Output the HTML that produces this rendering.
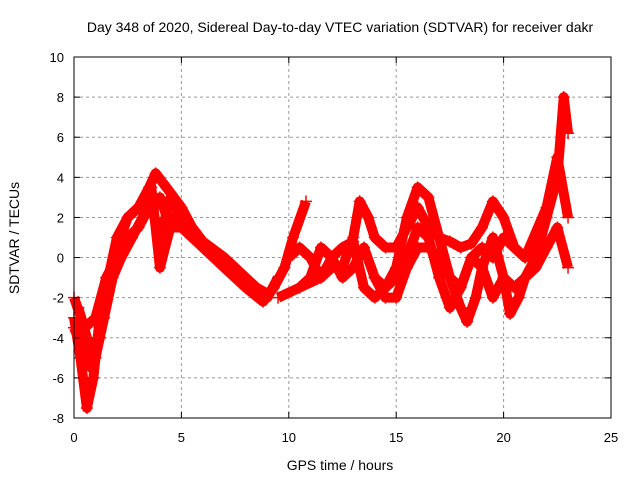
<!DOCTYPE html>
<html><head><meta charset="utf-8"><style>
body{margin:0;background:#fff;}
svg{display:block;font-family:"Liberation Sans",sans-serif;}
</style></head><body>
<svg id="chart" width="640" height="480">
<text x="340" y="32" font-size="14" text-anchor="middle">Day 348 of 2020, Sidereal Day-to-day VTEC variation (SDTVAR) for receiver dakr</text>
<text x="340" y="470" font-size="14" text-anchor="middle">GPS time / hours</text>
<text transform="translate(19,238) rotate(-90)" font-size="14" text-anchor="middle">SDTVAR / TECUs</text>
<g id="grid"></g><g id="series"></g><g id="axes"></g>
</svg>
<script>
const xTicks=[0,5,10,15,20,25];
const yTicks=[-8,-6,-4,-2,0,2,4,6,8,10];
const s1x=[0,0.3,0.6,0.9,1.2,1.6,2,2.5,3,3.5,3.8,4.3,5,5.5,6,7,8,8.5,9];
const s1y=[-3,-5,-7.5,-6,-3,-1,0.5,2,2.5,3.5,4.2,3.5,2.5,1.5,0.8,0,-1,-1.5,-2];
const s2x=[0,0.4,0.8,1.2,1.6,2,2.5,3,3.5,4,4.5,5,5.5,6,7,8,8.8,9.3,9.8,10.2,10.8];
const s2y=[-3.5,-4.5,-5.5,-4,-1,1,2,2.5,3,1,3,2,1.3,0.8,-0.5,-1.5,-2.2,-1.5,-0.5,1,2.8];
const s3x=[0,0.5,1,1.5,2,2.5,3,3.5,4,4.5,5,6,7,8,9,9.5];
const s3y=[-2,-3.5,-3,-1,0,1,1.5,2.5,3,1.5,1.5,0.5,-0.5,-1.5,-2,-1];
const s8x=[0.2,0.6,1,1.4,1.8,2.2,2.7,3.2,3.6,4,4.6,5.2,6,7,8,9];
const s8y=[-2.5,-4,-5,-3,-1,0,1,2,3.5,-0.5,2,1.5,0.5,-0.5,-1.2,-1.8];
const s4x=[9.5,10.5,11.5,12,12.5,13,13.3,13.7,14,14.5,15,15.5,16,16.5,17,17.5,18,18.5,19,19.5,20,20.5,21,21.5,22];
const s4y=[-2,-1.5,-1,-0.5,-0.5,1,2.8,2,1,0.5,0.5,1.5,2.5,1.5,1,0.8,0.5,0.7,1.5,2.8,2,0.5,0,1,2];
const s5x=[10,10.5,11,11.5,12,12.5,13,13.5,14,14.5,15,15.5,16,16.5,17,17.5,18,18.3,18.7,19,19.5,20,20.3,20.7,21,21.5,22,22.5,22.8,23];
const s5y=[0,0.5,0,-1,0,0.5,0.8,-1.5,-2,-1.5,-0.5,2,3.5,3,1,-1,-2.5,-3.2,-2,-0.5,1,-1,-2.8,-2,-1,0,2,4,8,6.2];
const s6x=[10.5,11,11.5,12,12.5,13,13.5,14,14.5,15,15.5,16,16.5,17,17.5,18,18.5,19,19.5,20,20.5,21,21.5,22,22.5,23];
const s6y=[-1.5,-1,0.5,0,-1,-0.5,0.5,-1,-2,-2,-0.5,0.5,0.5,0,-1,-1.5,0,-0.5,-2,-1,-1.5,-1,-0.5,0.5,1.5,-0.5];
const s7x=[14,14.5,15,15.5,16,16.5,17,17.5,18,18.5,19,19.5,20,21,22,22.5,23];
const s7y=[-1,-1.5,-1,0,1.5,1,-1,-2.5,-1.5,0,0.5,0,1,0,2.5,5,2];
const NS="http://www.w3.org/2000/svg";
const L=74,R=611,T=57,B=418;
const X=v=>L+(v-0)/(25-0)*(R-L);
const Y=v=>B-(v+8)/(10+8)*(B-T);
function mk(t,a,p){const e=document.createElementNS(NS,t);for(const k in a)e.setAttribute(k,a[k]);p.appendChild(e);return e;}
const grid=document.getElementById('grid'),axes=document.getElementById('axes'),ser=document.getElementById('series');
xTicks.forEach(t=>{
 if(t>0&&t<25){const g=mk('line',{x1:X(t),x2:X(t),y1:T,y2:B,stroke:'#999','stroke-dasharray':'3,3'},grid);
 
 }
 mk('line',{x1:X(t),x2:X(t),y1:B,y2:B-6,stroke:'#000'},axes);
 mk('line',{x1:X(t),x2:X(t),y1:T,y2:T+6,stroke:'#000'},axes);
 const tx=mk('text',{x:X(t),y:B+24,'font-size':13,'text-anchor':'middle'},axes);tx.textContent=t;
 
 
});
yTicks.forEach(t=>{
 if(t>-8&&t<10){const g=mk('line',{x1:L,x2:R,y1:Y(t),y2:Y(t),stroke:'#999','stroke-dasharray':'3,3'},grid);
 
 }
 mk('line',{x1:L,x2:L+6,y1:Y(t),y2:Y(t),stroke:'#000'},axes);
 mk('line',{x1:R,x2:R-6,y1:Y(t),y2:Y(t),stroke:'#000'},axes);
 const tx=mk('text',{x:L-10,y:Y(t)+5,'font-size':13,'text-anchor':'end'},axes);tx.textContent=t;
 
 
});
const fr=mk('rect',{x:L,y:T,width:R-L,height:B-T,fill:'none',stroke:'#000'},axes);


[[s1x,s1y],[s2x,s2y],[s3x,s3y],[s8x,s8y],[s4x,s4y],[s5x,s5y],[s6x,s6y],[s7x,s7y]].forEach((s,i)=>{
 const pts=s[0].map((x,j)=>X(x)+','+Y(s[1][j])).join(' ');
 const pl=mk('polyline',{points:pts,fill:'none',stroke:'#f00','stroke-width':10,'stroke-linejoin':'round'},ser);
 
 
 s[0].forEach((x,j)=>{
  const px=X(x),py=Y(s[1][j]);
  const c=mk('path',{d:`M${px-6},${py}h12M${px},${py-6}v12`,stroke:'#f00','stroke-width':1.5},ser);
  
  
 });
});
</script>
</body></html>
